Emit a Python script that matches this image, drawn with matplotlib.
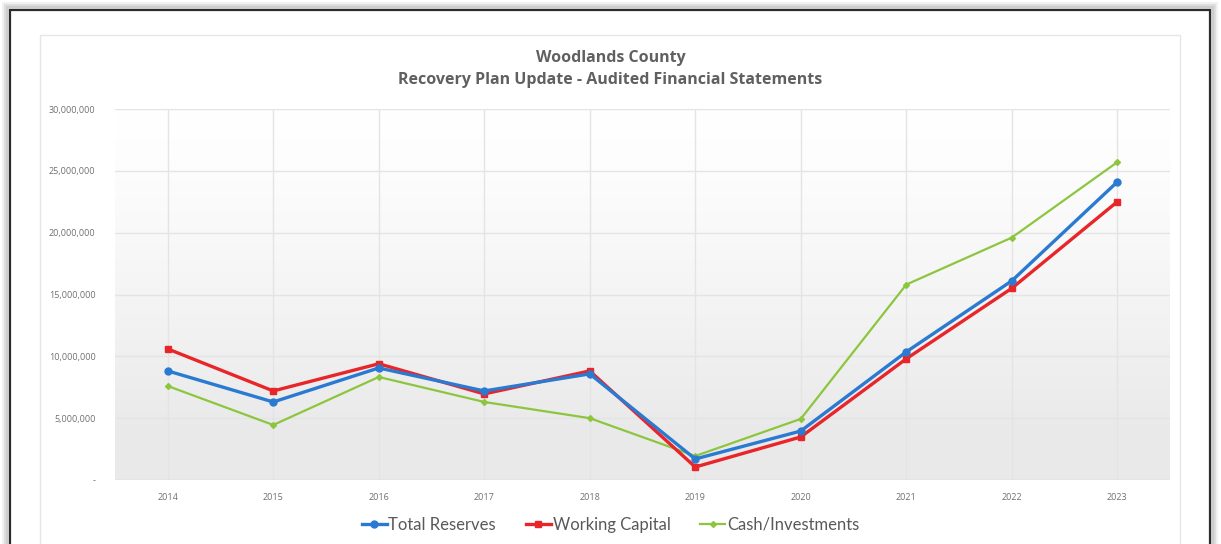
import matplotlib.pyplot as plt
import matplotlib.ticker as mticker
from matplotlib.patches import Rectangle
import numpy as np

plt.rcParams['font.family'] = ['Open Sans', 'DejaVu Sans']

# Datos
anos = ['2014', '2015', '2016', '2017', '2018', '2019', '2020', '2021', '2022', '2023']
total_reserves = [8.82e6, 6.31e6, 9.06e6, 7.2e6, 8.58e6, 1.7e6, 3.96e6, 10.36e6, 16.1e6, 24.1e6]
working_capital = [10.6e6, 7.2e6, 9.4e6, 6.96e6, 8.82e6, 1.05e6, 3.48e6, 9.8e6, 15.5e6, 22.5e6]
cash_investments = [7.6e6, 4.45e6, 8.33e6, 6.31e6, 5.0e6, 1.94e6, 4.94e6, 15.8e6, 19.6e6, 25.7e6]

W, H = 1221, 544
fig = plt.figure(figsize=(W / 100, H / 100), dpi=100)
fig.patch.set_facecolor('white')

# Marco del documento (sombra + borde oscuro)
for i, a in enumerate([0.05, 0.08, 0.12]):
    off = 6 - 2 * i
    fig.patches.append(Rectangle(((10 - off) / W, -0.05), (1200 + 2 * off) / W, (H - 10 + off) / H + 0.05,
                                 transform=fig.transFigure, facecolor='none',
                                 edgecolor=(0, 0, 0, a), lw=3, zorder=0))
fig.patches.append(Rectangle((10 / W, -0.05), 1200 / W, (H - 10) / H + 0.05,
                             transform=fig.transFigure, facecolor='white',
                             edgecolor='#2b2b2b', lw=1.6, zorder=1))
fig.patches.append(Rectangle((40 / W, -0.05), 1140 / W, (H - 35) / H + 0.05,
                             transform=fig.transFigure, facecolor='white',
                             edgecolor='#e6e6e6', lw=1.0, zorder=2))

ax = fig.add_axes([115 / W, 1 - 480 / H, 1055 / W, 371 / H])
ax.set_zorder(3)
x = np.arange(len(anos))

# Fondo en degradado (blanco arriba, gris claro abajo)
t = np.linspace(0, 1, 256)
shade = 1.0 - 0.085 * np.clip((1 - t) * 1.15, 0, 1) ** 1.3
grad = np.dstack([shade, shade, shade])[0][:, None, :]
ax.imshow(grad, extent=[-0.5, 9.5, 0, 30e6], aspect='auto', origin='lower', zorder=0)

ax.plot(x, cash_investments, color='#8cc63f', lw=1.6, marker='D', ms=3, label='Cash/Investments', zorder=4)
ax.plot(x, working_capital, color='#e8262a', lw=2.4, marker='s', ms=5, label='Working Capital', zorder=5)
ax.plot(x, total_reserves, color='#2a7ad2', lw=2.4, marker='o', ms=5, label='Total Reserves', zorder=6)

ax.set_xlim(-0.5, 9.5)
ax.set_ylim(0, 30e6)
ax.set_xticks(x)
ax.set_xticklabels(anos)
ax.set_yticks(np.arange(0, 30e6 + 1, 5e6))
ax.yaxis.set_major_formatter(mticker.FuncFormatter(lambda v, p: '-' if v == 0 else f'{int(v):,}'))
ax.tick_params(length=0, labelsize=6.5, labelcolor='#707070', pad=9)
ax.tick_params(axis='y', pad=14)
ax.grid(True, color='#e4e4e4', lw=1)
ax.set_axisbelow(True)
for s in ax.spines.values():
    s.set_visible(False)
ax.axhline(0, color='#d4d4d4', lw=1, zorder=1)

fig.text(0.5, 1 - 58 / H, 'Woodlands County', ha='center', va='center',
         fontsize=11.5, fontweight='bold', color='#606060', zorder=5)
fig.text(0.5, 1 - 80 / H, 'Recovery Plan Update - Audited Financial Statements', ha='center', va='center',
         fontsize=11.5, fontweight='bold', color='#606060', zorder=5)

handles, labels = ax.get_legend_handles_labels()
order = [2, 1, 0]
leg = fig.legend([handles[i] for i in order], [labels[i] for i in order], loc='center',
                 bbox_to_anchor=(0.5, 1 - 525 / H), ncol=3, frameon=False,
                 prop={'family': 'Lato', 'size': 12},
                 handlelength=1.5, handletextpad=0.1, columnspacing=1.8, labelcolor='#595959')
leg.set_zorder(6)

fig.savefig('out.png', dpi=100)
